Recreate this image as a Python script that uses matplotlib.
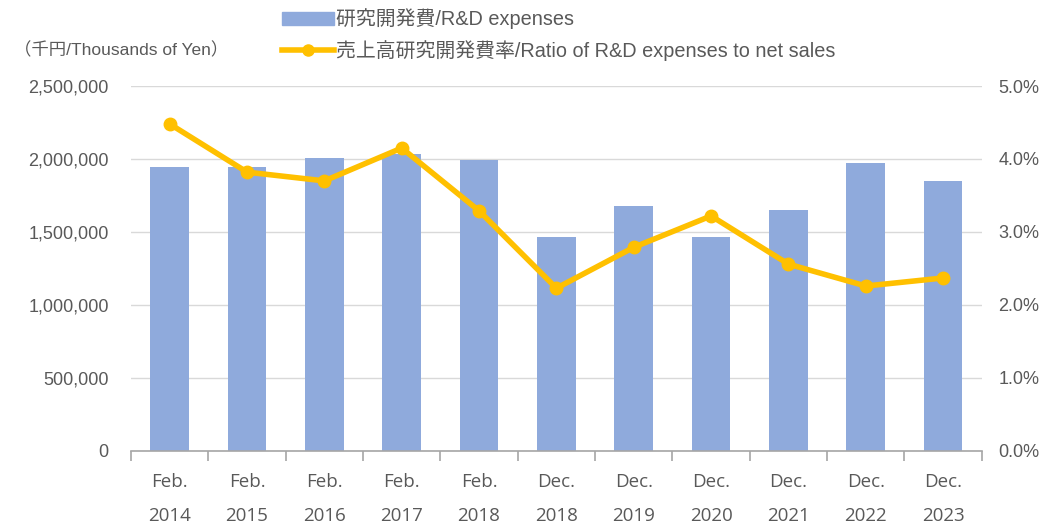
import numpy as np
import matplotlib.pyplot as plt
from matplotlib.lines import Line2D
from matplotlib.patches import Patch
from matplotlib.ticker import FuncFormatter

plt.rcParams['font.family'] = ['Open Sans', 'Noto Sans CJK JP', 'DejaVu Sans']
arial = ['Liberation Sans', 'Noto Sans CJK JP', 'DejaVu Sans']

months = ["Feb.", "Feb.", "Feb.", "Feb.", "Feb.", "Dec.", "Dec.", "Dec.", "Dec.", "Dec.", "Dec."]
years = ["2014", "2015", "2016", "2017", "2018", "2018", "2019", "2020", "2021", "2022", "2023"]
rd_expenses = [1945000, 1948000, 2007000, 2034000, 1995000, 1466000, 1678000, 1468000, 1651000, 1973000, 1849000]
rd_ratio = [4.48, 3.82, 3.70, 4.15, 3.29, 2.23, 2.79, 3.22, 2.56, 2.26, 2.37]

bar_color = '#8FAADC'
line_color = '#FFC000'
text_color = '#595959'
grid_color = '#D9D9D9'

fig = plt.figure(figsize=(10.4, 5.26), dpi=100)
ax = fig.add_axes([0.126, 0.1426, 0.818, 0.6939])
ax2 = ax.twinx()

x = np.arange(len(years))
ax.bar(x, rd_expenses, width=0.5, color=bar_color, zorder=2)
ax2.plot(x, rd_ratio, color=line_color, lw=4, marker='o', ms=9, zorder=3)

ax.set_xlim(-0.5, len(years) - 0.5)
ax.set_ylim(0, 2500000)
ax2.set_ylim(0, 5.0)
ax.set_yticks(np.arange(0, 2500001, 500000))
ax2.set_yticks(np.arange(0, 5.01, 1.0))
ax.yaxis.set_major_formatter(FuncFormatter(lambda v, p: f"{int(v):,}"))
ax2.yaxis.set_major_formatter(FuncFormatter(lambda v, p: f"{v:.1f}%"))

ax.grid(axis='y', color=grid_color, lw=1, zorder=0)
ax.set_axisbelow(True)
for a in (ax, ax2):
    for s in ('top', 'left', 'right', 'bottom'):
        a.spines[s].set_visible(False)
ax.spines['bottom'].set_visible(True)
ax.spines['bottom'].set_color('#A6A6A6')
ax.spines['bottom'].set_linewidth(1.2)

ax.set_xticks(x)
ax.set_xticklabels([f"{m}\n{y}" for m, y in zip(months, years)], linespacing=2.15)
ax.tick_params(axis='x', length=0, pad=16, labelsize=13.5, colors=text_color)
ax.set_xticks(np.arange(-0.5, len(years)), minor=True)
ax.tick_params(axis='x', which='minor', length=7, width=1.2, color='#A6A6A6')
ax.tick_params(axis='y', length=0, labelsize=13, colors=text_color, pad=16)
ax2.tick_params(axis='y', length=0, labelsize=13, colors=text_color, pad=12)
for lbl in ax.get_yticklabels() + ax2.get_yticklabels():
    lbl.set_family(arial)

fig.text(0.013, 0.905, "（千円/Thousands of Yen）", fontsize=12.5, color=text_color,
         ha='left', va='center', family=arial)

handles = [Patch(color=bar_color), Line2D([0], [0], color=line_color, lw=4, marker='o', ms=8)]
labels = ["研究開発費/R&D expenses", "売上高研究開発費率/Ratio of R&D expenses to net sales"]
fig.legend(handles, labels, loc='upper left', bbox_to_anchor=(0.258, 1.01), frameon=False,
           prop={'family': arial, 'size': 14.3}, labelcolor=text_color, handlelength=2.6,
           handletextpad=0.1, labelspacing=0.55, borderaxespad=0.3)

fig.savefig("out.png", dpi=100)
